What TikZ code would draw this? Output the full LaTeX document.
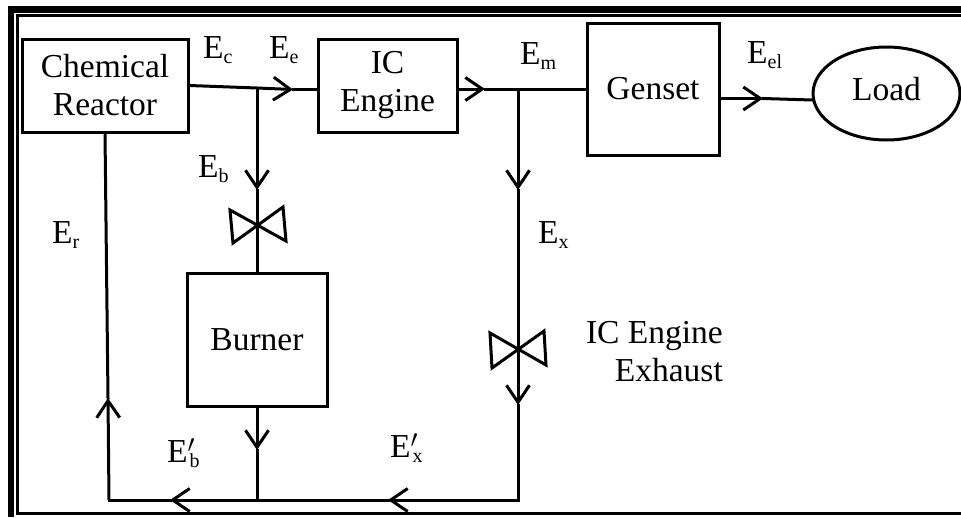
\documentclass[tikz,border=0pt]{standalone}
\usepackage{fontspec}
\setmainfont{Liberation Serif}
\usetikzlibrary{arrows.meta,shapes.geometric}
\tikzset{
  block/.style={draw,line width=3pt,align=center,inner sep=0pt,font=\fontsize{33.5}{38}\selectfont},
  txt/.style={inner sep=0pt,font=\fontsize{33.5}{38}\selectfont},
  lbl/.style={txt,anchor=base west},
  line/.style={line width=3pt},
  flow/.style={line,-{Straight Barb[length=17pt,width=23pt,line width=3pt]}},
}
\newcommand{\Esub}[1]{\raisebox{-5pt}{\fontsize{20}{20}\selectfont #1}}
\newcommand{\En}[1]{E\Esub{#1}}
\newcommand{\Ep}[1]{E\rlap{$'$}\kern2pt\Esub{#1}}
\begin{document}
\begin{tikzpicture}[x=1pt,y=-1pt]
  \useasboundingbox (0,0) rectangle (961,517);
  \begin{scope}
    \draw[line width=6.5pt] (11,517) -- (11,9.3) -- (961,9.3);
    \draw[line width=3pt] (961,15.8) -- (17.5,15.8) -- (17.5,513.8) -- (961,513.8);

    \node[block,minimum width=166pt,minimum height=93pt] (reactor) at (105,85.5) {Chemical\\Reactor};
    \node[block,minimum width=139pt,minimum height=93pt] (engine) at (387.5,85.5) {IC\\Engine};
    \node[block,minimum width=132pt,minimum height=132pt] (genset) at (653,89) {\raisebox{2pt}{Genset}};
    \node[block,minimum width=140pt,minimum height=133pt] (burner) at (257,339.5) {Burner};
    \node[block,ellipse,minimum width=147pt,minimum height=93pt] (load) at (886.5,93.5) {\raisebox{10pt}{Load}};

    \node[lbl] (Ec) at (203,58) {\En{c}};
    \node[lbl] (Ee) at (269,58) {\En{e}};
    \node[lbl] (Eb) at (198,177) {\En{b}};
    \node[lbl] (Er) at (52,243) {\En{r}};
    \node[lbl] (Em) at (520,64) {\En{m}};
    \node[lbl] (Eel) at (747,63) {\En{el}};
    \node[lbl] (Ex) at (538,243) {\En{x}};
    \node[lbl] (Ebp) at (167,462) {\Ep{b}};
    \node[lbl] (Exp) at (390,457) {\Ep{x}};
    \node[txt,align=right,anchor=east] (exhaust) at (723,352) {IC Engine\\Exhaust};

    \coordinate (jc) at (257,88);
    \coordinate (tipe) at (293,89.5);
    \coordinate (tipm) at (485,89);
    \coordinate (jm) at (518,89);
    \coordinate (tipel) at (763,98.5);
    \coordinate (tipb) at (257,190);
    \coordinate (valveb) at (257,225);
    \coordinate (tipx) at (518,190);
    \coordinate (valvex) at (518,350);
    \coordinate (tipxx) at (518,405);
    \coordinate (cornx) at (518,500);
    \coordinate (tipxp) at (388,500);
    \coordinate (jb) at (257,500);
    \coordinate (tipbo) at (257,450);
    \coordinate (tipbp) at (170,500);
    \coordinate (cornr) at (109,500);
    \coordinate (tipr) at (108,398);

    \draw[line] (reactor.east) -- (jc);
    \draw[flow] (jc) -- (tipe);
    \draw[line,line cap=rect] (tipe) -- (engine.west |- tipe);
    \draw[flow] (engine.east |- tipm) -- (tipm);
    \draw[line,line cap=rect] (tipm) -- (genset.west);
    \draw[flow] (genset.east |- tipel) -- (tipel);
    \draw[line,line cap=rect] (tipel) -- (load.185);

    \draw[flow] (jc) -- (tipb);
    \draw[line,line cap=rect] (tipb) -- (burner.north);
    \draw[line] (valveb) ++(-27,-15) -- ++(3,33) -- ++(50,-36) -- ++(3,34) -- cycle;

    \draw[flow] (jm) -- (tipx);
    \draw[line,line cap=rect] (tipx) -- (valvex);
    \draw[flow] (valvex) -- (tipxx);
    \draw[line,line cap=rect] (tipxx) -- (cornx);
    \draw[line] (valvex) ++(-28,-17) -- ++(2,35) -- ++(52,-37) -- ++(2,34) -- cycle;

    \draw[flow] (burner.south) -- (tipbo);
    \draw[line,line cap=rect] (tipbo) -- (jb);
    \draw[flow] (cornx) -- (tipxp);
    \draw[line,line cap=rect] (tipxp) -- (jb);
    \draw[flow] (jb) -- (tipbp);
    \draw[line,line cap=rect] (tipbp) -- (cornr);
    \draw[flow] (cornr) -- (tipr);
    \draw[line,line cap=rect] (tipr) -- (reactor.south);
  \end{scope}
\end{tikzpicture}
\end{document}
